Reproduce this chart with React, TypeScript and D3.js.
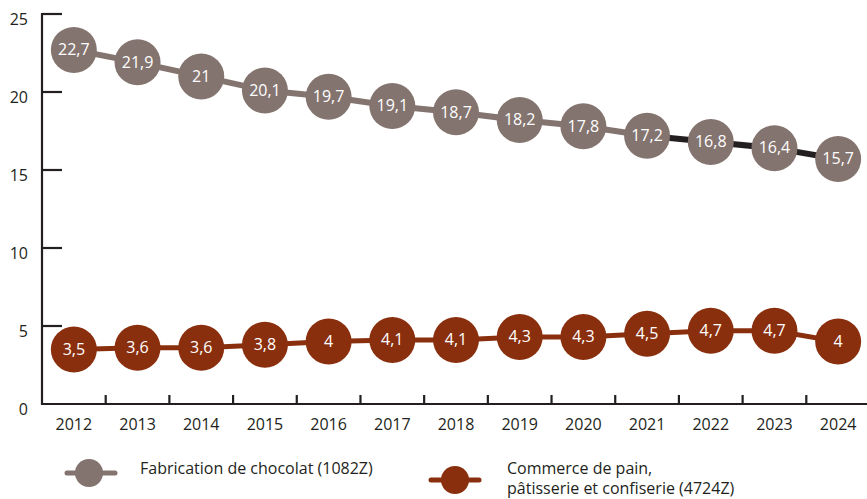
import React, { useEffect, useRef } from 'react';
import * as d3 from 'd3';

const years = ['2012', '2013', '2014', '2015', '2016', '2017', '2018', '2019', '2020', '2021', '2022', '2023', '2024'];
const chocolat = [22.7, 21.9, 21, 20.1, 19.7, 19.1, 18.7, 18.2, 17.8, 17.2, 16.8, 16.4, 15.7];
const pain = [3.5, 3.6, 3.6, 3.8, 4, 4.1, 4.1, 4.3, 4.3, 4.5, 4.7, 4.7, 4];
const yTicks = [0, 5, 10, 15, 20, 25];

const GREY = '#84746f';
const RED = '#8a2f0e';
const INK = '#231f20';
const FONT = '"Open Sans", "Noto Sans", sans-serif';

const App: React.FC = () => {
  const svgRef = useRef<SVGSVGElement | null>(null);

  useEffect(() => {
    const svg = d3.select(svgRef.current);
    svg.selectAll('*').remove();

    const width = 867;
    const height = 499;
    const x = d3.scaleBand().domain(years).range([42, 870]);
    const y = d3.scaleLinear().domain([0, 25]).range([404, 14]);
    const cx = (d: string) => x(d)! + x.bandwidth() / 2;

    svg.attr('width', width).attr('height', height);

    // axes
    const axis = svg.append('g').attr('stroke', INK).attr('stroke-width', 2.2);
    axis.append('line').attr('x1', 42).attr('x2', 42).attr('y1', y(25) - 1).attr('y2', y(0) + 1);
    axis.append('line').attr('x1', 41).attr('x2', 867).attr('y1', y(0)).attr('y2', y(0));
    axis.selectAll('line.yt').data(yTicks.filter((t) => t > 0)).enter().append('line')
      .attr('x1', 42).attr('x2', 62).attr('y1', (d) => y(d)).attr('y2', (d) => y(d));
    axis.selectAll('line.xt').data(years.slice(1)).enter().append('line')
      .attr('x1', (d) => x(d)!).attr('x2', (d) => x(d)!)
      .attr('y1', y(0)).attr('y2', y(0) - 9);

    svg.append('g').selectAll('text').data(yTicks).enter().append('text')
      .attr('x', 28).attr('y', (d) => y(d) + 7)
      .attr('text-anchor', 'end').attr('dominant-baseline', 'middle')
      .attr('font-family', FONT).attr('font-size', 16).attr('fill', INK)
      .text((d) => d);

    svg.append('g').selectAll('text').data(years).enter().append('text')
      .attr('x', cx).attr('y', 426)
      .attr('text-anchor', 'middle').attr('dominant-baseline', 'middle')
      .attr('font-family', FONT).attr('font-size', 16).attr('fill', INK)
      .text((d) => d);

    const fmt = (v: number) => String(v).replace('.', ',');

    const drawSeries = (vals: number[], color: string, lineW: number, segColor: (i: number) => string) => {
      const g = svg.append('g');
      const pts = vals.map((v, i) => [cx(years[i]), y(v)] as [number, number]);
      for (let i = 0; i < pts.length - 1; i++) {
        g.append('line')
          .attr('x1', pts[i][0]).attr('y1', pts[i][1])
          .attr('x2', pts[i + 1][0]).attr('y2', pts[i + 1][1])
          .attr('stroke', segColor(i)).attr('stroke-width', lineW);
      }
      g.selectAll('circle').data(vals).enter().append('circle')
        .attr('cx', (_, i) => pts[i][0]).attr('cy', (_, i) => pts[i][1])
        .attr('r', 23).attr('fill', color);
      g.selectAll('text').data(vals).enter().append('text')
        .attr('x', (_, i) => pts[i][0]).attr('y', (_, i) => pts[i][1] + 1)
        .attr('text-anchor', 'middle').attr('dominant-baseline', 'middle')
        .attr('font-family', FONT).attr('font-size', 16).attr('fill', '#fff')
        .text((d) => fmt(d));
    };

    drawSeries(chocolat, GREY, 6, (i) => (i >= 9 ? INK : GREY));
    drawSeries(pain, RED, 5, () => RED);

    // legend
    const leg = svg.append('g').attr('font-family', FONT).attr('font-size', 16).attr('fill', INK);
    const g1 = leg.append('g');
    g1.append('line').attr('x1', 67).attr('x2', 115).attr('y1', 473).attr('y2', 473)
      .attr('stroke', GREY).attr('stroke-width', 5).attr('stroke-linecap', 'round');
    g1.append('circle').attr('cx', 89).attr('cy', 473).attr('r', 14).attr('fill', GREY);
    leg.append('text').attr('x', 140).attr('y', 470).attr('dominant-baseline', 'middle')
      .text('Fabrication de chocolat (1082Z)');

    const g2 = leg.append('g');
    g2.append('line').attr('x1', 431).attr('x2', 479).attr('y1', 480).attr('y2', 480)
      .attr('stroke', RED).attr('stroke-width', 5).attr('stroke-linecap', 'round');
    g2.append('circle').attr('cx', 455).attr('cy', 480).attr('r', 14).attr('fill', RED);
    leg.append('text').attr('x', 507).attr('y', 470).attr('dominant-baseline', 'middle')
      .text('Commerce de pain,');
    leg.append('text').attr('x', 507).attr('y', 490).attr('dominant-baseline', 'middle')
      .text('pâtisserie et confiserie (4724Z)');
  }, []);

  return <svg ref={svgRef} style={{ position: 'absolute', left: 0, top: 0 }}></svg>;
};

export default App;
